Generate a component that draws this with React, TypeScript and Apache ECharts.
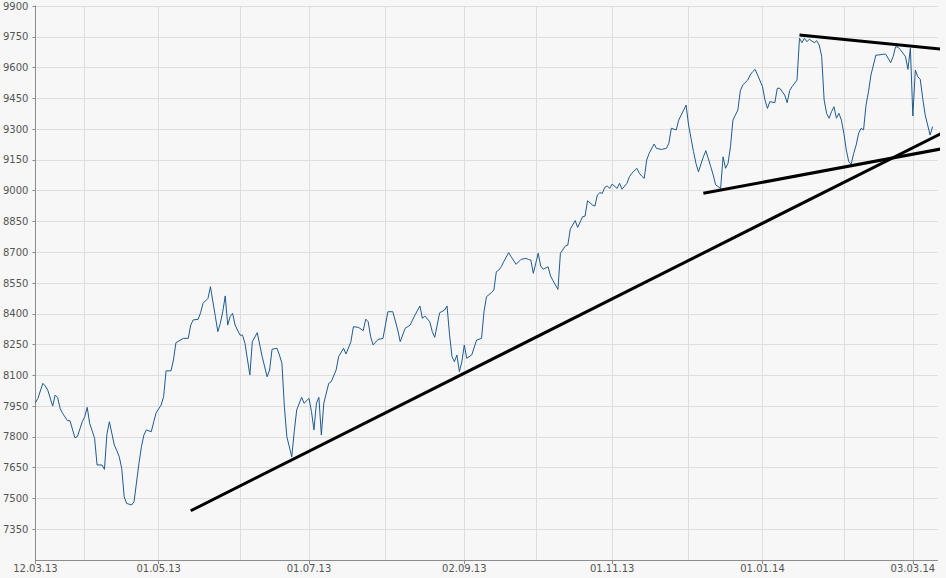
import React, { useEffect, useRef } from "react";
import * as echarts from "echarts";

// ---- axis setup ----
const START_DATE = "2013-03-12";
const END_DATE = "2014-03-13";
const LABEL_DATES = ["2013-03-12", "2013-05-01", "2013-07-01", "2013-09-02", "2013-11-01", "2014-01-01", "2014-03-03"];
const MONTH_GRID_DATES = ["2013-04-01", "2013-06-03", "2013-08-01", "2013-10-01", "2013-12-02", "2014-02-03"];
const Y_MIN = 7200;
const Y_MAX = 9900;
const Y_STEP = 150;

// ---- index series (dates / closing values) ----
const DAX_DATES = [
  "2013-03-12", "2013-03-13", "2013-03-15", "2013-03-16", "2013-03-17", "2013-03-19", "2013-03-20", "2013-03-21", "2013-03-22", "2013-03-23",
  "2013-03-25", "2013-03-26", "2013-03-28", "2013-03-29", "2013-03-31", "2013-04-01", "2013-04-02", "2013-04-03", "2013-04-04", "2013-04-05",
  "2013-04-06", "2013-04-08", "2013-04-09", "2013-04-10", "2013-04-11", "2013-04-13", "2013-04-14", "2013-04-15", "2013-04-16", "2013-04-17",
  "2013-04-18", "2013-04-20", "2013-04-21", "2013-04-23", "2013-04-24", "2013-04-25", "2013-04-26", "2013-04-28", "2013-04-29", "2013-04-30",
  "2013-05-02", "2013-05-03", "2013-05-04", "2013-05-06", "2013-05-07", "2013-05-08", "2013-05-11", "2013-05-13", "2013-05-14", "2013-05-15",
  "2013-05-17", "2013-05-18", "2013-05-19", "2013-05-21", "2013-05-22", "2013-05-24", "2013-05-25", "2013-05-26", "2013-05-27", "2013-05-28",
  "2013-05-29", "2013-05-30", "2013-05-31", "2013-06-01", "2013-06-03", "2013-06-04", "2013-06-05", "2013-06-07", "2013-06-08", "2013-06-10",
  "2013-06-12", "2013-06-14", "2013-06-15", "2013-06-16", "2013-06-18", "2013-06-19", "2013-06-20", "2013-06-21", "2013-06-22", "2013-06-24",
  "2013-06-25", "2013-06-26", "2013-06-28", "2013-06-29", "2013-07-01", "2013-07-02", "2013-07-03", "2013-07-04", "2013-07-05", "2013-07-06",
  "2013-07-07", "2013-07-09", "2013-07-10", "2013-07-12", "2013-07-13", "2013-07-15", "2013-07-16", "2013-07-18", "2013-07-19", "2013-07-21",
  "2013-07-23", "2013-07-24", "2013-07-25", "2013-07-26", "2013-07-27", "2013-07-29", "2013-07-31", "2013-08-02", "2013-08-04", "2013-08-06",
  "2013-08-07", "2013-08-09", "2013-08-11", "2013-08-13", "2013-08-15", "2013-08-16", "2013-08-17", "2013-08-19", "2013-08-20", "2013-08-21",
  "2013-08-23", "2013-08-25", "2013-08-26", "2013-08-27", "2013-08-28", "2013-08-29", "2013-08-30", "2013-08-31", "2013-09-01", "2013-09-02",
  "2013-09-03", "2013-09-05", "2013-09-07", "2013-09-09", "2013-09-10", "2013-09-11", "2013-09-13", "2013-09-14", "2013-09-15", "2013-09-16",
  "2013-09-17", "2013-09-18", "2013-09-20", "2013-09-21", "2013-09-23", "2013-09-25", "2013-09-27", "2013-09-28", "2013-09-29", "2013-09-30",
  "2013-10-02", "2013-10-03", "2013-10-04", "2013-10-06", "2013-10-07", "2013-10-08", "2013-10-10", "2013-10-11", "2013-10-13", "2013-10-14",
  "2013-10-15", "2013-10-17", "2013-10-18", "2013-10-20", "2013-10-21", "2013-10-22", "2013-10-24", "2013-10-25", "2013-10-26", "2013-10-27",
  "2013-10-28", "2013-10-29", "2013-10-30", "2013-10-31", "2013-11-01", "2013-11-03", "2013-11-04", "2013-11-05", "2013-11-07", "2013-11-08",
  "2013-11-09", "2013-11-11", "2013-11-12", "2013-11-13", "2013-11-14", "2013-11-15", "2013-11-16", "2013-11-18", "2013-11-19", "2013-11-21",
  "2013-11-23", "2013-11-24", "2013-11-25", "2013-11-27", "2013-11-28", "2013-11-29", "2013-11-30", "2013-12-01", "2013-12-02", "2013-12-03",
  "2013-12-04", "2013-12-05", "2013-12-06", "2013-12-08", "2013-12-09", "2013-12-11", "2013-12-12", "2013-12-13", "2013-12-15", "2013-12-16",
  "2013-12-17", "2013-12-18", "2013-12-19", "2013-12-20", "2013-12-22", "2013-12-23", "2013-12-24", "2013-12-26", "2013-12-27", "2013-12-28",
  "2013-12-29", "2013-12-30", "2014-01-01", "2014-01-02", "2014-01-03", "2014-01-04", "2014-01-06", "2014-01-07", "2014-01-08", "2014-01-10",
  "2014-01-11", "2014-01-12", "2014-01-13", "2014-01-15", "2014-01-16", "2014-01-17", "2014-01-18", "2014-01-19", "2014-01-20", "2014-01-22",
  "2014-01-23", "2014-01-24", "2014-01-25", "2014-01-26", "2014-01-27", "2014-01-28", "2014-01-29", "2014-01-30", "2014-01-31", "2014-02-01",
  "2014-02-02", "2014-02-03", "2014-02-04", "2014-02-05", "2014-02-06", "2014-02-07", "2014-02-08", "2014-02-09", "2014-02-10", "2014-02-11",
  "2014-02-12", "2014-02-13", "2014-02-14", "2014-02-16", "2014-02-17", "2014-02-19", "2014-02-20", "2014-02-22", "2014-02-23", "2014-02-24",
  "2014-02-25", "2014-02-26", "2014-02-28", "2014-03-01", "2014-03-02", "2014-03-03", "2014-03-04", "2014-03-05", "2014-03-06", "2014-03-07",
  "2014-03-08", "2014-03-10", "2014-03-11",
];
const DAX_VALUES = [
  7966, 7988, 8061, 8048, 8028, 7950, 8004, 7992, 7939, 7915,
  7879, 7879, 7796, 7801, 7874, 7898, 7944, 7866, 7830, 7793,
  7663, 7663, 7642, 7814, 7874, 7760, 7733, 7703, 7647, 7508,
  7476, 7468, 7484, 7671, 7752, 7809, 7834, 7825, 7874, 7918,
  7955, 7996, 8122, 8122, 8175, 8259, 8280, 8280, 8345, 8370,
  8373, 8405, 8451, 8475, 8532, 8386, 8313, 8353, 8410, 8487,
  8345, 8386, 8402, 8345, 8296, 8296, 8256, 8102, 8264, 8308,
  8191, 8093, 8126, 8227, 8232, 8199, 8159, 7947, 7801, 7703,
  7825, 7931, 7993, 7964, 7988, 7923, 7834, 7964, 7993, 7809,
  7964, 8061, 8069, 8126, 8191, 8232, 8204, 8264, 8337, 8334,
  8318, 8374, 8361, 8288, 8248, 8275, 8280, 8410, 8410, 8321,
  8264, 8329, 8345, 8394, 8438, 8378, 8389, 8361, 8313, 8285,
  8405, 8418, 8438, 8300, 8191, 8166, 8199, 8118, 8166, 8248,
  8183, 8199, 8272, 8280, 8410, 8483, 8503, 8516, 8605, 8613,
  8629, 8654, 8698, 8678, 8641, 8665, 8670, 8665, 8662, 8597,
  8695, 8633, 8617, 8629, 8584, 8561, 8519, 8695, 8730, 8735,
  8812, 8854, 8821, 8873, 8876, 8951, 8930, 8925, 8979, 8990,
  8987, 9016, 9023, 9011, 9032, 9011, 9036, 9007, 9036, 9068,
  9085, 9109, 9085, 9071, 9060, 9149, 9182, 9227, 9206, 9201,
  9206, 9231, 9304, 9296, 9344, 9369, 9393, 9417, 9320, 9255,
  9190, 9133, 9092, 9165, 9195, 9117, 9076, 9028, 9011, 9165,
  9109, 9133, 9214, 9344, 9393, 9487, 9515, 9539, 9564, 9580,
  9591, 9564, 9507, 9442, 9401, 9434, 9429, 9499, 9499, 9466,
  9429, 9487, 9507, 9539, 9743, 9721, 9743, 9726, 9738, 9721,
  9731, 9710, 9655, 9442, 9377, 9353, 9385, 9409, 9353, 9377,
  9344, 9280, 9198, 9141, 9130, 9182, 9222, 9280, 9304, 9296,
  9417, 9482, 9564, 9661, 9661, 9665, 9665, 9624, 9653, 9702,
  9699, 9686, 9653, 9591, 9694, 9364, 9588, 9555, 9543, 9450,
  9369, 9271, 9312,
];

// ---- hand-drawn trend lines: [date, value] end points (they run past the plot's right edge) ----
const TREND_LONG_SUPPORT = [["2013-05-14", 7440], ["2014-03-20", 9312]];
const TREND_LOWER_WEDGE = [["2013-12-08", 8987], ["2014-03-20", 9216]];
const TREND_UPPER_WEDGE = [["2014-01-16", 9759], ["2014-03-20", 9683]];

const pad = (n: number) => (n < 10 ? "0" + n : "" + n);
const toIso = (d: Date) => `${d.getFullYear()}-${pad(d.getMonth() + 1)}-${pad(d.getDate())}`;
const toTime = (s: string) => new Date(s + "T00:00:00").getTime();

function calendarDays(start: string, end: string): string[] {
  const out: string[] = [];
  const d = new Date(start + "T00:00:00");
  const e = new Date(end + "T00:00:00");
  while (d.getTime() <= e.getTime()) {
    out.push(toIso(d));
    d.setDate(d.getDate() + 1);
  }
  return out;
}

const germanLabel = (iso: string) => `${iso.slice(8, 10)}.${iso.slice(5, 7)}.${iso.slice(2, 4)}`;

export default function App() {
  const ref = useRef<HTMLDivElement>(null);

  useEffect(() => {
    if (!ref.current) return;
    const chart = echarts.init(ref.current, undefined, { renderer: "svg" });
    const days = calendarDays(START_DATE, END_DATE);
    const labelSet = new Set(LABEL_DATES);
    const gridSet = new Set([...LABEL_DATES, ...MONTH_GRID_DATES]);
    const axisColor = "#8c8c8c";
    const gridColor = "#dedede";
    const textStyle = { color: "#555555", fontFamily: "DejaVu Sans", fontSize: 10 };

    const trend = (pts: (string | number)[][]) => ({
      type: "line",
      xAxisIndex: 1,
      data: pts.map((p) => [toTime(p[0] as string), p[1]]),
      symbol: "none",
      clip: false,
      silent: true,
      lineStyle: { color: "#000000", width: 3 },
      z: 5,
    });

    chart.setOption({
      animation: false,
      backgroundColor: "#f7f7f7",
      grid: { left: 34, right: 8.5, top: 6, bottom: 18, containLabel: false },
      xAxis: [
        {
          type: "category",
          data: days,
          boundaryGap: false,
          axisLine: { show: true, lineStyle: { color: axisColor, width: 1 } },
          axisTick: {
            show: true,
            interval: (_i: number, v: string) => labelSet.has(v),
            length: 4,
            lineStyle: { color: axisColor },
          },
          axisLabel: {
            ...textStyle,
            interval: (_i: number, v: string) => labelSet.has(v),
            formatter: (v: string) => germanLabel(v),
            margin: 3,
          },
          splitLine: {
            show: true,
            interval: (_i: number, v: string) => gridSet.has(v),
            lineStyle: { color: gridColor, width: 1 },
          },
        },
        {
          type: "time",
          min: toTime(START_DATE),
          max: toTime(END_DATE),
          show: false,
        },
      ],
      yAxis: {
        type: "value",
        min: Y_MIN,
        max: Y_MAX,
        interval: Y_STEP,
        axisLine: { show: true, lineStyle: { color: axisColor, width: 1 } },
        axisTick: { show: true, length: 3, lineStyle: { color: axisColor } },
        axisLabel: { ...textStyle, showMinLabel: false, margin: 7, formatter: (v: number) => String(v) },
        splitLine: { show: true, lineStyle: { color: gridColor, width: 1 } },
      },
      series: [
        {
          type: "line",
          xAxisIndex: 1,
          data: DAX_DATES.map((d, i) => [toTime(d), DAX_VALUES[i]]),
          symbol: "none",
          lineStyle: { color: "#1f5b91", width: 1 },
          z: 3,
        },
        trend(TREND_LONG_SUPPORT),
        trend(TREND_LOWER_WEDGE),
        trend(TREND_UPPER_WEDGE),
      ],
    });
    return () => chart.dispose();
  }, []);

  return (
    <div
      ref={ref}
      style={{ position: "fixed", left: 0, top: 0, width: 946, height: 578, background: "#f7f7f7" }}
    />
  );
}
